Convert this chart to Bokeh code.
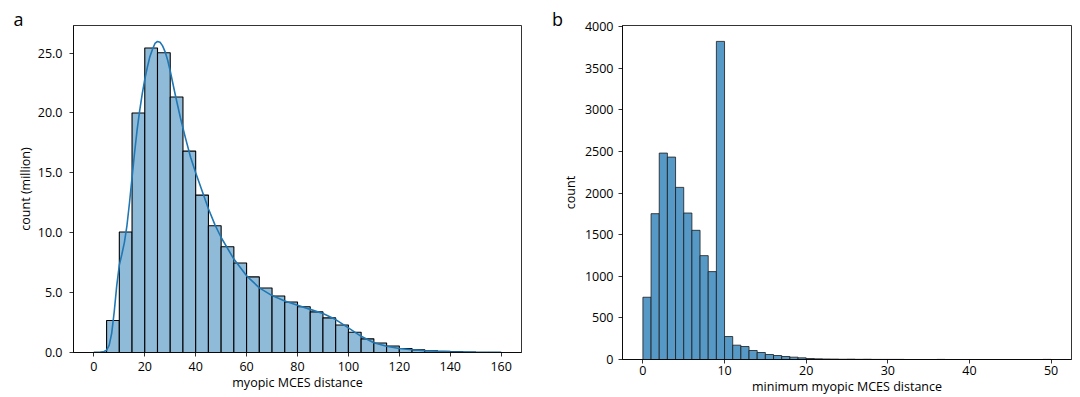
import math
from bokeh.plotting import figure
from bokeh.layouts import row
from bokeh.models import FixedTicker, PrintfTickFormatter, Label, Range1d
from bokeh.embed import file_html
from bokeh.resources import INLINE

# ---------------- data ----------------
# panel a: pairwise myopic MCES distances (millions), bins of width 5
a_bin_left = list(range(0, 160, 5))
a_counts = [0.01, 2.67, 10.06, 20.0, 25.42, 25.03, 21.33, 16.81, 13.14, 10.58,
            8.83, 7.47, 6.31, 5.39, 4.72, 4.22, 3.82, 3.39, 2.89, 2.29,
            1.69, 1.14, 0.79, 0.54, 0.34, 0.22, 0.15, 0.10, 0.07, 0.04,
            0.02, 0.01]
kde_x = [0, 2.5, 4, 5, 6, 7, 8, 9, 10, 11, 12, 13, 14, 15, 16, 17, 18, 19, 20,
         21, 22, 23, 24, 25, 26, 27, 28, 29, 30, 32, 34, 36, 38, 40, 42.5, 45,
         47.5, 50, 55, 60, 65, 70, 75, 80, 85, 90, 95, 100, 105, 110, 115, 120,
         125, 130, 135, 140, 150, 160]
kde_y = [0.0, 0.02, 0.08, 0.2, 0.6, 1.6, 3.4, 5.6, 7.3, 8.2, 9.2, 10.6, 12.5,
         14.6, 16.7, 18.6, 20.2, 21.6, 22.8, 23.8, 24.7, 25.3, 25.8, 25.97, 25.9,
         25.6, 25.1, 24.4, 23.5, 21.5, 19.6, 17.9, 16.3, 15.0, 13.5, 12.0, 10.7,
         9.6, 7.8, 6.4, 5.4, 4.75, 4.3, 3.95, 3.6, 3.25, 2.75, 2.05, 1.35, 0.82,
         0.52, 0.34, 0.23, 0.15, 0.10, 0.06, 0.02, 0.0]
a_xticks = [0, 20, 40, 60, 80, 100, 120, 140, 160]
a_yticks = [0, 5, 10, 15, 20, 25]

# panel b: minimum myopic MCES distance, bins of width 1
b_bin_left = list(range(0, 50))
b_counts = [748, 1752, 2480, 2432, 2068, 1760, 1552, 1248, 1056, 3822,
            276, 172, 156, 108, 84, 60, 48, 36, 28, 20,
            12, 8, 6, 5, 3, 4, 2, 3, 1, 1,
            1, 1, 0, 0, 0, 0, 1, 0, 0, 0,
            0, 0, 0, 0, 0, 0, 0, 0, 0, 1]
b_xticks = [0, 10, 20, 30, 40, 50]
b_yticks = [0, 500, 1000, 1500, 2000, 2500, 3000, 3500, 4000]

FONT = "Open Sans"
FS = "12.5px"


def style(p):
    if "frame_align" in p.properties():
        p.frame_align = False
    p.xgrid.visible = False
    p.ygrid.visible = False
    p.outline_line_color = "black"
    p.outline_line_width = 0.8
    p.background_fill_color = "white"
    p.border_fill_color = "white"
    for ax in (p.xaxis[0], p.yaxis[0]):
        ax.axis_line_color = "black"
        ax.axis_line_width = 0.8
        ax.major_tick_in = 0
        ax.major_tick_out = 4
        ax.major_tick_line_color = "black"
        ax.major_tick_line_width = 0.8
        ax.minor_tick_line_color = None
        ax.major_label_text_font = FONT
        ax.major_label_text_font_size = FS
        ax.major_label_text_color = "black"
        ax.axis_label_text_font = FONT
        ax.axis_label_text_font_size = FS
        ax.axis_label_text_font_style = "normal"
        ax.axis_label_text_color = "black"


def text_label(x, y, text, size, align="left"):
    return Label(x=x, y=y, x_units="screen", y_units="screen", text=text,
                 text_align=align, text_baseline="alphabetic", text_font=FONT,
                 text_font_size=size, text_color="black")


# ---------------- panel a ----------------
p1 = figure(width=563, height=396,
            min_border_left=73, min_border_right=42,
            min_border_top=25, min_border_bottom=44,
            x_range=Range1d(-8, 168), y_range=Range1d(0, 27.3),
            output_backend="svg", toolbar_location=None)
style(p1)
p1.quad(left=a_bin_left, right=[v + 5 for v in a_bin_left], bottom=0, top=a_counts,
        fill_color="#8fbbd9", line_color="black", line_width=1.1)
p1.line(kde_x, kde_y, line_color="#1f77b4", line_width=1.6)
p1.xaxis.ticker = FixedTicker(ticks=a_xticks)
p1.yaxis.ticker = FixedTicker(ticks=a_yticks)
p1.yaxis.formatter = PrintfTickFormatter(format="%.1f")
p1.xaxis.axis_label = "myopic MCES distance"
p1.yaxis.axis_label = "count (million)"
p1.xaxis.major_label_standoff = 5
p1.xaxis.axis_label_standoff = 0
p1.yaxis.major_label_standoff = 7
p1.yaxis.axis_label_standoff = 1
p1.add_layout(text_label(-60, 7, "a", "18px"), "above")
# panel letter of the second chart (sits left of its axis, in the gap)
p1.add_layout(text_label(30.5, 334, "b", "18px"), "right")

# ---------------- panel b ----------------
p2 = figure(width=515, height=396,
            min_border_left=59, min_border_right=7,
            min_border_top=25, min_border_bottom=37,
            x_range=Range1d(-2.5, 52.5), y_range=Range1d(0, 4013),
            output_backend="svg", toolbar_location=None)
style(p2)
p2.quad(left=b_bin_left, right=[v + 1 for v in b_bin_left], bottom=0, top=b_counts,
        fill_color="#5799c6", line_color="#1a1a1a", line_width=0.8)
p2.xaxis.ticker = FixedTicker(ticks=b_xticks)
p2.yaxis.ticker = FixedTicker(ticks=b_yticks)
p2.xaxis.major_label_standoff = 2
p2.yaxis.major_label_standoff = 5
# y-axis title of panel b (rotated), placed with the plot's own scales
p2.add_layout(Label(x=-8.93, y=2006, text="count", angle=math.pi / 2,
                    text_align="center", text_baseline="middle", text_font=FONT,
                    text_font_size=FS, text_color="black"), "left")
# x-axis title of panel b, set tight under the tick labels as in the original
p2.add_layout(text_label(224.5, -361, "minimum myopic MCES distance", FS, "center"), "above")

layout = row(p1, p2)
open("out.html", "w").write(file_html(layout, INLINE))
